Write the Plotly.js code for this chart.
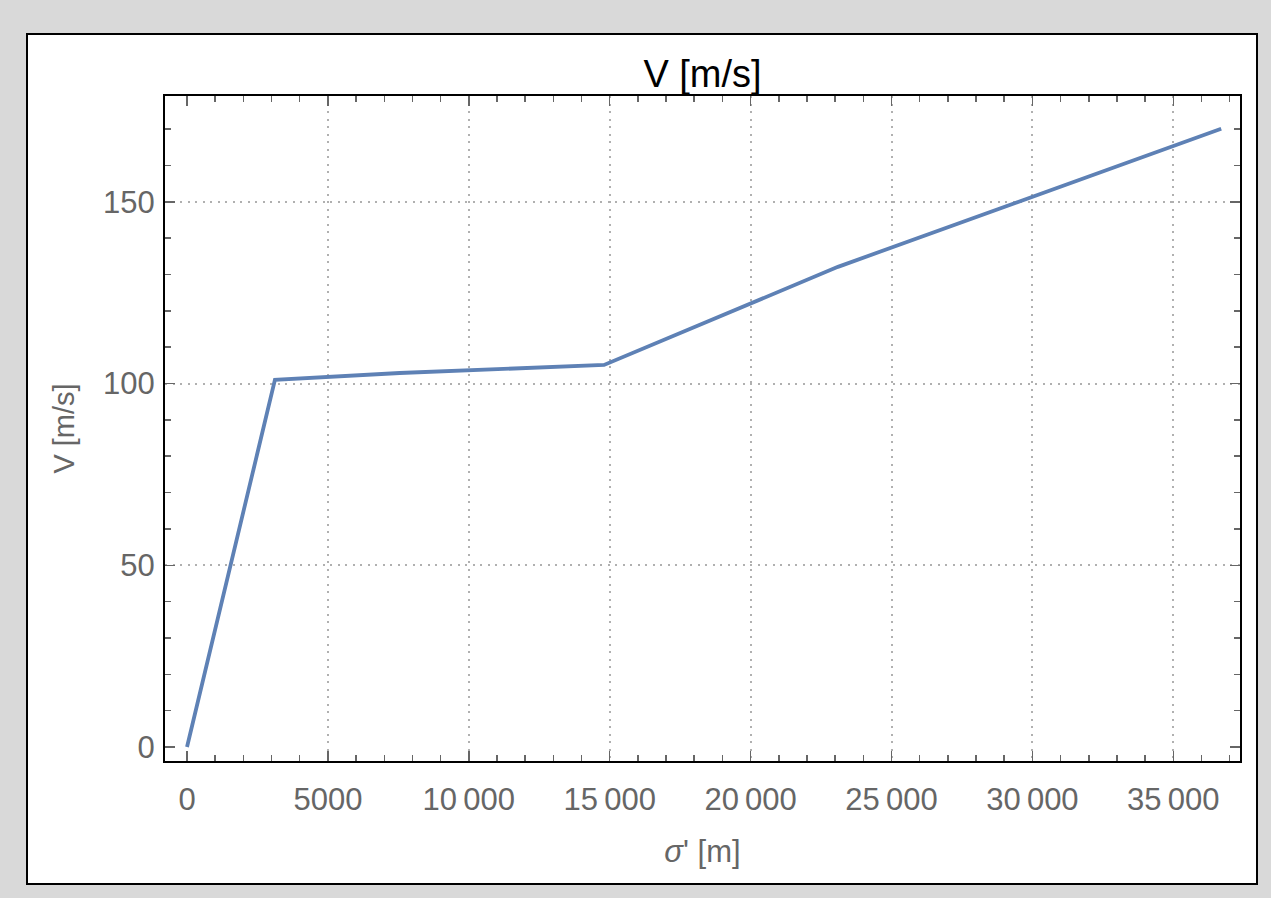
<!DOCTYPE html>
<html><head><meta charset="utf-8">
<script src="https://cdn.plot.ly/plotly-3.0.1.min.js"></script>
<style>
html,body{margin:0;padding:0;background:#d9d9d9;width:1271px;height:898px;overflow:hidden;}
#frame{position:absolute;left:26px;top:33px;width:1228px;height:848px;border:2px solid #000;background:#fff;}
#plot{position:absolute;left:0;top:0;width:1271px;height:898px;}
</style></head>
<body>
<div id="frame"></div>
<div id="plot"></div>
<script>
const sigma = [0, 3120, 7550, 14800, 23100, 36700];
const velocity = [0, 101, 102.9, 105.1, 132.1, 170.1];
const xTickVals = [0, 5000, 10000, 15000, 20000, 25000, 30000, 35000];
const xTickText = ['0', '5000', '10\u2009000', '15\u2009000', '20\u2009000', '25\u2009000', '30\u2009000', '35\u2009000'];
const xGridVals = [5000, 10000, 15000, 20000, 25000, 30000, 35000];
const yTickVals = [0, 50, 100, 150];
const yTickText = ['0', '50', '100', '150'];
const yGridVals = [50, 100, 150];
const xRange = [-781, 37367];
const yRange = [-3.85, 179.1];

const FONT = 'Liberation Sans, Arial, sans-serif';
const tickFont = {family: FONT, size: 31, color: '#666666'};
const gridAxis = {
  showline: true, linecolor: '#000', linewidth: 2, mirror: true,
  ticks: '', showticklabels: false, tickmode: 'array',
  showgrid: true, gridcolor: '#b0b0b0', gridwidth: 2, griddash: '2px,5.5px',
  zeroline: false
};
const tickAxis = {
  showline: true, linecolor: '#000', linewidth: 2, mirror: 'ticks',
  ticks: 'inside', tickcolor: '#666666', tickwidth: 1.5, ticklen: 10,
  showgrid: false, zeroline: false, tickfont: tickFont, tickmode: 'array'
};

Plotly.newPlot('plot', [
  {x: [], y: [], type: 'scatter', mode: 'lines', xaxis: 'x', yaxis: 'y', hoverinfo: 'none'},
  {x: sigma, y: velocity, type: 'scatter', mode: 'lines', xaxis: 'x2', yaxis: 'y2',
   line: {color: '#5E81B5', width: 3.8}, hoverinfo: 'none'}
], {
  width: 1271, height: 898,
  paper_bgcolor: 'rgba(0,0,0,0)', plot_bgcolor: 'rgba(0,0,0,0)',
  margin: {l: 165, r: 31, t: 96, b: 137},
  showlegend: false,
  title: {text: 'V [m/s]', font: {family: FONT, size: 38, color: '#000'},
          x: 0.5, xanchor: 'center', xref: 'paper', y: 1 - 74/898, yanchor: 'middle', yref: 'container'},
  xaxis: Object.assign({}, gridAxis, {range: xRange, tickvals: xGridVals}),
  yaxis: Object.assign({}, gridAxis, {range: yRange, tickvals: yGridVals}),
  xaxis2: Object.assign({}, tickAxis, {
    overlaying: 'x', anchor: 'y2', side: 'bottom',
    range: xRange, tickvals: xTickVals, ticktext: xTickText,
    ticklabelstandoff: 10,
    minor: {dtick: 1000, tick0: 0, ticks: 'inside', ticklen: 6, tickcolor: '#666666', tickwidth: 1.5, showgrid: false},
    title: {text: "<i>σ</i>' [m]", font: {family: FONT, size: 31, color: '#666666'}, standoff: 24}
  }),
  yaxis2: Object.assign({}, tickAxis, {
    overlaying: 'y', anchor: 'x2', side: 'left',
    range: yRange, tickvals: yTickVals, ticktext: yTickText,
    ticklabelstandoff: 2,
    minor: {dtick: 10, tick0: 0, ticks: 'inside', ticklen: 6, tickcolor: '#666666', tickwidth: 1.5, showgrid: false},
    title: {text: 'V [m/s]', font: {family: FONT, size: 29, color: '#666666'}, standoff: 20}
  })
}, {staticPlot: true});
</script>
</body></html>
